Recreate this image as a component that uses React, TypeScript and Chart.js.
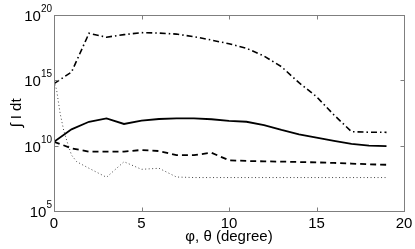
import React, { useEffect, useRef } from "react";
import { Chart, registerables } from "chart.js";

Chart.register(...registerables);

// x positions (degree)
const xInt = [0, 1, 2, 3, 4, 5, 6, 7, 8, 9, 10, 11, 12, 13, 14, 15, 16, 17, 18, 19];
const xDotted = [0, 0.15, 0.35, 0.55, 0.75, 1, 1.3, 2, 3, 4, 5, 6, 7, 8, 9, 10, 11, 12, 13, 14, 15, 16, 17, 18, 19];

// log10 of ∫ I dt for each series
const dashDotExp = [14.75, 15.63, 18.6, 18.3, 18.5, 18.65, 18.62, 18.54, 18.34, 18.08, 17.8, 17.45, 16.86, 16.04, 14.82, 13.75, 12.35, 11.07, 11.03, 11.02];
const solidExp = [10.3, 11.25, 11.83, 12.09, 11.66, 11.91, 12.04, 12.09, 12.09, 12.02, 11.9, 11.83, 11.58, 11.2, 10.87, 10.61, 10.36, 10.13, 10.0, 9.97];
const dashedExp = [10.3, 9.8, 9.54, 9.54, 9.55, 9.67, 9.59, 9.28, 9.28, 9.46, 8.88, 8.83, 8.8, 8.78, 8.75, 8.72, 8.68, 8.63, 8.57, 8.54];
const dottedExp = [14.95, 14.26, 12.47, 11.2, 10.3, 9.28, 8.77, 8.27, 7.58, 8.77, 8.19, 8.27, 7.6, 7.56, 7.56, 7.56, 7.56, 7.56, 7.56, 7.56, 7.56, 7.56, 7.56, 7.56, 7.56];

// ticks
const xTicks = [0, 5, 10, 15, 20];
const yTickExps = [5, 10, 15, 20];
const xTitle = "φ, θ (degree)";
const yTitle = "∫ I dt";

const FONT = '"Liberation Sans", Arial, Helvetica, sans-serif';

const toPts = (xs: number[], es: number[]) => xs.map((x, i) => ({ x, y: Math.pow(10, es[i]) }));

const framePlugin = {
  id: "matlabFrame",
  afterDraw(chart: any) {
    const { ctx, chartArea } = chart;
    const { left, right, top, bottom } = chartArea;
    const xs = chart.scales.x;
    const ys = chart.scales.y;
    ctx.save();
    ctx.strokeStyle = "#7f7f7f";
    ctx.lineWidth = 1;
    const L = Math.round(left) + 0.5;
    const R = Math.round(right) + 0.5;
    const T = Math.round(top) + 0.5;
    const B = Math.round(bottom) + 0.5;
    ctx.strokeRect(L, T, R - L, B - T);
    const tl = 4;
    ctx.beginPath();
    xTicks.forEach((v) => {
      const px = Math.round(xs.getPixelForValue(v)) + 0.5;
      ctx.moveTo(px, B);
      ctx.lineTo(px, B - tl);
      ctx.moveTo(px, T);
      ctx.lineTo(px, T + tl);
    });
    yTickExps.forEach((e) => {
      const py = Math.round(ys.getPixelForValue(Math.pow(10, e))) + 0.5;
      ctx.moveTo(L, py);
      ctx.lineTo(L + tl, py);
      ctx.moveTo(R, py);
      ctx.lineTo(R - tl, py);
    });
    ctx.stroke();

    ctx.fillStyle = "#000";
    // x tick labels
    ctx.font = `15px ${FONT}`;
    ctx.textAlign = "center";
    ctx.textBaseline = "top";
    xTicks.forEach((v) => {
      ctx.fillText(String(v), xs.getPixelForValue(v), bottom + 5);
    });
    // y tick labels with superscript
    yTickExps.forEach((e) => {
      const py = ys.getPixelForValue(Math.pow(10, e));
      const expStr = String(e);
      ctx.font = `10px ${FONT}`;
      const ew = ctx.measureText(expStr).width;
      const expRight = left - 2;
      ctx.textAlign = "right";
      ctx.textBaseline = "alphabetic";
      ctx.fillText(expStr, expRight, py - 3);
      ctx.font = `15px ${FONT}`;
      ctx.fillText("10", expRight - ew, py + 6);
    });
    // x title
    ctx.font = `15px ${FONT}`;
    ctx.textAlign = "center";
    ctx.textBaseline = "alphabetic";
    ctx.fillText(xTitle, (left + right) / 2, 241);
    // y title
    ctx.save();
    ctx.translate(21, (top + bottom) / 2);
    ctx.rotate(-Math.PI / 2);
    ctx.textAlign = "center";
    ctx.textBaseline = "alphabetic";
    ctx.fillText(yTitle, 0, 0);
    ctx.restore();
    ctx.restore();
  },
};

export default function App() {
  const ref = useRef<HTMLCanvasElement>(null);
  useEffect(() => {
    if (!ref.current) return;
    const common = { pointRadius: 0, fill: false, borderColor: "#000", tension: 0 };
    const chart = new Chart(ref.current, {
      type: "line",
      data: {
        datasets: [
          { ...common, label: "dash-dot", data: toPts(xInt, dashDotExp), borderWidth: 1.6, borderDash: [6, 3, 1.5, 3] },
          { ...common, label: "solid", data: toPts(xInt, solidExp), borderWidth: 1.8 },
          { ...common, label: "dashed", data: toPts(xInt, dashedExp), borderWidth: 1.8, borderDash: [6, 4] },
          { ...common, label: "dotted", data: toPts(xDotted, dottedExp), borderWidth: 1, borderDash: [1, 2.5], borderColor: "#444" },
        ],
      },
      options: {
        responsive: false,
        animation: false,
        layout: { padding: { left: 54, right: 11, top: 15, bottom: 38 } },
        plugins: { legend: { display: false }, tooltip: { enabled: false } },
        scales: {
          x: { type: "linear", min: 0, max: 20, display: false },
          y: { type: "logarithmic", min: 1e5, max: 1e20, display: false },
        },
      },
      plugins: [framePlugin],
    });
    return () => chart.destroy();
  }, []);
  return (
    <div style={{ position: "absolute", left: 0, top: 0, width: 415, height: 249, background: "#fff" }}>
      <canvas ref={ref} width={415} height={249} style={{ display: "block", width: 415, height: 249 }} />
    </div>
  );
}
